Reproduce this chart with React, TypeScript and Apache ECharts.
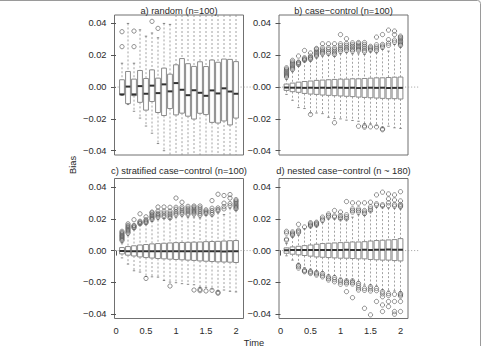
import React, { useEffect, useRef } from "react";
import * as echarts from "echarts";

// Evaluation times (one box per time)
const times = [0.1, 0.2, 0.3, 0.4, 0.5, 0.6, 0.7, 0.8, 0.9, 1.0, 1.1, 1.2, 1.3, 1.4, 1.5, 1.6, 1.7, 1.8, 1.9, 2.0];

const xTicks = [0, 0.5, 1, 1.5, 2];
const yTicks = [-0.04, -0.02, 0, 0.02, 0.04];

// a) random (n=100)
const aLo = [-0.0052, -0.011, -0.0152, -0.0195, -0.0245, -0.029, -0.0355, -0.04, -0.055, -0.055, -0.055, -0.055, -0.055, -0.055, -0.055, -0.055, -0.055, -0.055, -0.055, -0.055];
const aQ1 = [-0.0048, -0.0104, -0.0054, -0.0096, -0.0145, -0.0091, -0.016, -0.0179, -0.0135, -0.0175, -0.0164, -0.0183, -0.0201, -0.0165, -0.0173, -0.0222, -0.0226, -0.0213, -0.0238, -0.0195];
const aMed = [-0.0046, 0.0003, -0.0046, 0.0006, -0.0042, 0.0009, -0.0038, 0.0017, -0.0027, 0.0025, -0.0017, -0.0051, -0.002, -0.0036, -0.0055, -0.0021, -0.004, -0.0008, -0.0028, -0.0042];
const aQ3 = [0.0046, 0.0098, 0.005, 0.0104, 0.0054, 0.0108, 0.0056, 0.0119, 0.0081, 0.014, 0.0179, 0.0147, 0.013, 0.0159, 0.0129, 0.017, 0.0156, 0.0176, 0.0174, 0.016];
const aHi = [0.015, 0.04, 0.015, 0.036, 0.032, 0.034, 0.031, 0.04, 0.0394, 0.055, 0.055, 0.055, 0.055, 0.055, 0.055, 0.055, 0.055, 0.055, 0.055, 0.055];
const aOut = [[0.0254, 0.0348], [], [0.0254, 0.0352], [], [], [0.0413], [0.0369], [], [], [], [], [], [], [], [], [], [], [], [], []];

// b) case-control (n=100)
const bLo = [-0.0046, -0.0083, -0.0129, -0.0135, -0.0163, -0.0163, -0.0167, -0.019, -0.0198, -0.02, -0.0208, -0.021, -0.0215, -0.0231, -0.0231, -0.0242, -0.0256, -0.0246, -0.0256, -0.026];
const bQ1 = [-0.0021, -0.0029, -0.0033, -0.004, -0.0044, -0.0046, -0.005, -0.0052, -0.0054, -0.0056, -0.0058, -0.006, -0.0063, -0.0065, -0.0067, -0.0069, -0.0071, -0.0073, -0.0073, -0.0075];
const bMed = [-0.0003, -0.0004, -0.0004, -0.0005, -0.0004, -0.0005, -0.0004, -0.0005, -0.0003, -0.0004, -0.0005, -0.0004, -0.0006, -0.0005, -0.0004, -0.0005, -0.0004, -0.0006, -0.0005, -0.0005];
const bQ3 = [0.0019, 0.0025, 0.0031, 0.0035, 0.0038, 0.0042, 0.0044, 0.0046, 0.0048, 0.005, 0.005, 0.0052, 0.0052, 0.0054, 0.0056, 0.0058, 0.0058, 0.006, 0.0062, 0.0063];
const bHi = [0.0048, 0.0096, 0.0132, 0.0163, 0.0163, 0.0184, 0.0194, 0.0201, 0.0194, 0.0209, 0.0216, 0.0209, 0.0209, 0.0205, 0.0222, 0.0216, 0.0237, 0.0226, 0.0268, 0.0251];
const bOut = [
  [0.0063, 0.007, 0.0077, 0.0084, 0.0091, 0.0098, 0.0106, 0.0113, 0.0121],
  [0.011, 0.0118, 0.0126, 0.0134, 0.0142, 0.015, 0.0158, 0.0168],
  [0.0142, 0.0148, 0.0154, 0.0157, 0.0195],
  [0.0168, 0.0172, 0.0178, 0.0184, 0.023],
  [0.0174, 0.018, 0.0186, 0.0195, 0.0214, -0.0172],
  [0.0195, 0.0203, 0.021, 0.0218, 0.0226, 0.0237, 0.0243],
  [0.021, 0.0218, 0.0226, 0.0234, 0.0247, 0.0272],
  [0.0212, 0.0222, 0.0235, 0.0247, 0.0272],
  [0.0205, 0.0215, 0.0225, 0.0235, 0.0247, 0.0272, -0.0224],
  [0.0225, 0.0235, 0.0245, 0.026, 0.0272, 0.033],
  [0.023, 0.024, 0.025, 0.0262, 0.0274, 0.0304],
  [0.0226, 0.0235, 0.0246, 0.0256, 0.0266, 0.0278],
  [0.023, 0.0238, 0.0246, 0.0254, 0.0262, 0.0272, 0.028, -0.0246],
  [0.0222, 0.0232, 0.0244, 0.0256, 0.0268, 0.028, -0.0244, -0.0252],
  [0.0232, 0.024, 0.0248, 0.0256, -0.025],
  [0.0228, 0.024, 0.0252, 0.0266, 0.0314, -0.025],
  [0.025, 0.0258, 0.0268, 0.033, -0.0262, -0.0268],
  [0.0262, 0.0276, 0.0298, 0.0358],
  [0.0282, 0.0295, 0.033, 0.0352],
  [0.0262, 0.027, 0.0278, 0.0286, 0.0295, 0.0304, 0.0312, 0.032],
];

// c) stratified case-control (n=100)
const cLo = [-0.0046, -0.0085, -0.0127, -0.0135, -0.0163, -0.0165, -0.0167, -0.0188, -0.0198, -0.0202, -0.0208, -0.0212, -0.0215, -0.0231, -0.0233, -0.0242, -0.0254, -0.0248, -0.0256, -0.026];
const cQ1 = [-0.0021, -0.0029, -0.0034, -0.004, -0.0044, -0.0047, -0.005, -0.0052, -0.0054, -0.0056, -0.0058, -0.006, -0.0062, -0.0065, -0.0067, -0.0069, -0.0071, -0.0072, -0.0073, -0.0075];
const cMed = [-0.0003, -0.0004, -0.0005, -0.0004, -0.0004, -0.0005, -0.0004, -0.0005, -0.0004, -0.0004, -0.0005, -0.0004, -0.0005, -0.0005, -0.0004, -0.0005, -0.0004, -0.0006, -0.0005, -0.0005];
const cQ3 = [0.0019, 0.0025, 0.003, 0.0035, 0.0038, 0.0042, 0.0044, 0.0046, 0.0048, 0.005, 0.0051, 0.0052, 0.0053, 0.0054, 0.0056, 0.0057, 0.0058, 0.006, 0.0062, 0.0063];
const cHi = [0.0048, 0.0094, 0.0132, 0.0163, 0.0165, 0.0184, 0.0194, 0.0201, 0.0196, 0.0209, 0.0216, 0.0209, 0.0211, 0.0205, 0.0222, 0.0218, 0.0237, 0.0226, 0.0266, 0.0251];
const cOut = [
  [0.0063, 0.007, 0.0077, 0.0084, 0.0091, 0.0098, 0.0106, 0.0113, 0.0121],
  [0.011, 0.0118, 0.0126, 0.0134, 0.0142, 0.015, 0.0158, 0.0168],
  [0.0142, 0.0148, 0.0154, 0.0158, 0.0194],
  [0.0168, 0.0172, 0.0178, 0.0184, 0.0231],
  [0.0174, 0.018, 0.0186, 0.0194, 0.0212, -0.0175],
  [0.0195, 0.0203, 0.021, 0.0218, 0.0226, 0.0236, 0.0242],
  [0.021, 0.0218, 0.0226, 0.0234, 0.0248, 0.0274],
  [0.0212, 0.0222, 0.0235, 0.0248, 0.0274],
  [0.0205, 0.0215, 0.0225, 0.0235, 0.0248, 0.0272, -0.0223],
  [0.0225, 0.0235, 0.0245, 0.026, 0.0272, 0.033],
  [0.023, 0.024, 0.025, 0.0262, 0.0274, 0.0304],
  [0.0226, 0.0235, 0.0246, 0.0256, 0.0266, 0.0278],
  [0.023, 0.0238, 0.0246, 0.0254, 0.0262, 0.0272, 0.028, -0.0248],
  [0.0222, 0.0232, 0.0244, 0.0256, 0.0268, 0.028, -0.0244, -0.0252],
  [0.0232, 0.024, 0.0248, 0.0256, -0.0254],
  [0.0228, 0.024, 0.0252, 0.0266, 0.0314, -0.025],
  [0.025, 0.0258, 0.0268, 0.0354, -0.0262, -0.0268],
  [0.0262, 0.0276, 0.0298, 0.0346],
  [0.0282, 0.0295, 0.033, 0.0352],
  [0.0262, 0.027, 0.0278, 0.0286, 0.0295, 0.0304, 0.0312, 0.032],
];

// d) nested case-control (n ~ 180)
const dLo = [-0.0033, -0.006, -0.0081, -0.0108, -0.0117, -0.0129, -0.0133, -0.0154, -0.0158, -0.0175, -0.0185, -0.0185, -0.0196, -0.0217, -0.0217, -0.0223, -0.0248, -0.0254, -0.0254, -0.0258];
const dQ1 = [-0.0017, -0.0023, -0.0027, -0.0031, -0.0035, -0.004, -0.0042, -0.0044, -0.0046, -0.0048, -0.0048, -0.005, -0.0052, -0.0052, -0.0056, -0.0058, -0.006, -0.006, -0.0063, -0.0065];
const dMed = [0.0002, 0.0003, 0.0003, 0.0004, 0.0003, 0.0004, 0.0004, 0.0003, 0.0004, 0.0004, 0.0005, 0.0004, 0.0004, 0.0005, 0.0004, 0.0005, 0.0005, 0.0006, 0.0005, 0.0005];
const dQ3 = [0.0017, 0.0023, 0.0027, 0.0031, 0.0035, 0.004, 0.0044, 0.0046, 0.0048, 0.005, 0.0052, 0.0054, 0.0054, 0.0056, 0.006, 0.0063, 0.0065, 0.0067, 0.0069, 0.0075];
const dHi = [0.0044, 0.0085, 0.0096, 0.0138, 0.0148, 0.0154, 0.0175, 0.02, 0.02, 0.0196, 0.0196, 0.021, 0.0225, 0.0221, 0.0246, 0.0273, 0.0273, 0.0267, 0.0267, 0.0262];
const dOut = [
  [0.0065, 0.0072, 0.011, 0.0121],
  [0.0096, 0.0102, 0.0109, 0.0117],
  [0.0112, 0.012, 0.0128, 0.0165, -0.0092, -0.01, -0.011],
  [0.0148, -0.0123, -0.0128, -0.0133],
  [0.0154, 0.016, 0.0168, 0.0175, -0.013, -0.0137, -0.0144],
  [0.016, 0.0166, 0.0172, 0.0178, -0.0138, -0.0146, -0.0154],
  [0.019, 0.0198, 0.021, -0.0144, -0.0155, -0.0165],
  [0.021, 0.022, 0.023, -0.0165, -0.0175, -0.0185],
  [0.021, 0.0218, 0.0252, -0.017, -0.0183, -0.0196],
  [0.02, 0.021, 0.022, 0.0242, -0.0185, -0.0198, -0.0212],
  [0.02, 0.0212, 0.0225, 0.0308, -0.019, -0.02, -0.021, -0.0258],
  [0.0242, 0.0252, 0.0262, 0.03, -0.019, -0.02, -0.021, -0.0296],
  [0.0242, 0.0252, 0.0262, 0.0298, -0.0206, -0.022, -0.0234, -0.0248],
  [0.0232, 0.0242, 0.0252, 0.03, -0.0238, -0.025, -0.0363],
  [0.025, 0.0262, 0.0275, 0.0304, -0.0227, -0.024, -0.0254, -0.0404],
  [0.0285, 0.0294, 0.035, -0.0238, -0.0252, -0.032],
  [0.028, 0.0288, 0.0367, -0.0258, -0.0272, -0.029, -0.0342, -0.0383],
  [0.0282, 0.03, 0.0325, 0.0356, -0.027, -0.0282, -0.032, -0.0352],
  [0.028, 0.029, 0.0318, 0.035, -0.0275, -0.032, -0.0383, -0.04],
  [0.0275, 0.0282, 0.029, 0.0312, 0.037, -0.027, -0.0278, -0.0286, -0.032, -0.0383],
];

const FONT = "'Liberation Sans', Arial, Helvetica, sans-serif";
const TEXT = "#2a2a2a";
const FRAME = "#707070";
const BOX_W = 0.08;

type Panel = {
  title: string;
  lo: number[]; q1: number[]; med: number[]; q3: number[]; hi: number[]; out: number[][];
  left: number; top: number; titleY: number; showX: boolean;
};

const panels: Panel[] = [
  { title: "a) random (n=100)", lo: aLo, q1: aQ1, med: aMed, q3: aQ3, hi: aHi, out: aOut, left: 114.5, top: 15, titleY: 10.5, showX: false },
  { title: "b) case\u2212control (n=100)", lo: bLo, q1: bQ1, med: bMed, q3: bQ3, hi: bHi, out: bOut, left: 279, top: 15, titleY: 10.5, showX: false },
  { title: "c) stratified case\u2212control (n=100)", lo: cLo, q1: cQ1, med: cMed, q3: cQ3, hi: cHi, out: cOut, left: 114.5, top: 178.5, titleY: 171, showX: true },
  { title: "d) nested case\u2212control (n ~ 180)", lo: dLo, q1: dQ1, med: dMed, q3: dQ3, hi: dHi, out: dOut, left: 279, top: 178.5, titleY: 171, showX: true },
];

const GRID_W = 129;
const GRID_H = 140;

const fmtY = (v: number) => {
  const s = Math.abs(v).toFixed(2);
  return v < -1e-9 ? "\u2212" + s : s;
};
const fmtX = (v: number) => String(Math.round(v * 10) / 10);

function boxRenderer(params: any, api: any) {
  const cs = params.coordSys;
  const top = cs.y;
  const bot = cs.y + cs.height;
  const t = api.value(0);
  const px = api.coord([t, 0])[0];
  const yOf = (v: number) => api.coord([t, v])[1];
  const half = api.size([BOX_W, 0])[0] / 2;
  const yLo = yOf(api.value(1));
  const yQ1 = yOf(api.value(2));
  const yMed = yOf(api.value(3));
  const yQ3 = yOf(api.value(4));
  const yHi = yOf(api.value(5));
  const clamp = (y: number) => Math.max(top, Math.min(bot, y));
  const whisk = { stroke: "#8c8c8c", lineWidth: 0.8, lineDash: [2, 2] };
  const cap = { stroke: "#6a6a6a", lineWidth: 0.8 };
  const children: any[] = [
    { type: "line", shape: { x1: px, y1: clamp(yHi), x2: px, y2: yQ3 }, style: whisk },
    { type: "line", shape: { x1: px, y1: yQ1, x2: px, y2: clamp(yLo) }, style: whisk },
  ];
  if (yHi >= top) children.push({ type: "line", shape: { x1: px - half / 2, y1: yHi, x2: px + half / 2, y2: yHi }, style: cap });
  if (yLo <= bot) children.push({ type: "line", shape: { x1: px - half / 2, y1: yLo, x2: px + half / 2, y2: yLo }, style: cap });
  children.push({
    type: "rect",
    shape: { x: px - half, y: yQ3, width: half * 2, height: yQ1 - yQ3 },
    style: { fill: "#ffffff", stroke: "#8a8a8a", lineWidth: 1 },
  });
  children.push({
    type: "line",
    shape: { x1: px - half, y1: yMed, x2: px + half, y2: yMed },
    style: { stroke: "#303030", lineWidth: 2 },
  });
  return { type: "group", children };
}

function zeroRenderer(params: any, api: any) {
  const cs = params.coordSys;
  const y = api.coord([0, api.value(0)])[1];
  return {
    type: "line",
    shape: { x1: cs.x, y1: y, x2: cs.x + cs.width + 11, y2: y },
    style: { stroke: "#9a9a9a", lineWidth: 0.8, lineDash: [1.2, 1.8] },
  };
}

function label(text: string, x: number, y: number, rotation = 0) {
  return {
    type: "text", x, y, rotation,
    style: {
      text, fontSize: 9.3, fontFamily: FONT, fill: TEXT,
      align: "center", verticalAlign: "middle",
      textAlign: "center", textVerticalAlign: "middle",
    },
  };
}

export default function App() {
  const ref = useRef<HTMLDivElement>(null);

  useEffect(() => {
    if (!ref.current) return;
    const chart = echarts.init(ref.current, undefined, { renderer: "svg" });

    const grid = panels.map((p) => ({
      left: p.left, top: p.top, width: GRID_W, height: GRID_H,
      show: true, borderColor: FRAME, borderWidth: 1, backgroundColor: "transparent",
      containLabel: false,
    }));

    const xAxis = panels.map((p, i) => ({
      type: "value", gridIndex: i, min: -0.025, max: 2.125,
      splitLine: { show: false },
      axisLine: { show: false },
      axisTick: { show: p.showX, inside: false, length: 5, customValues: xTicks, lineStyle: { color: "#555", width: 1 } },
      axisLabel: { show: p.showX, customValues: xTicks, margin: 8, fontSize: 9.3, fontFamily: FONT, color: TEXT, formatter: fmtX },
    }));

    const yAxis = panels.map((_p, i) => ({
      type: "value", gridIndex: i, min: -0.0427, max: 0.0453,
      splitLine: { show: false },
      axisLine: { show: false },
      axisTick: { show: true, inside: false, length: 5, customValues: yTicks, lineStyle: { color: "#555", width: 1 } },
      axisLabel: { show: true, customValues: yTicks, margin: 8, fontSize: 9.3, fontFamily: FONT, color: TEXT, formatter: fmtY },
    }));

    const series: any[] = [];
    panels.forEach((p, i) => {
      series.push({
        type: "custom", xAxisIndex: i, yAxisIndex: i, clip: false, z: 1, silent: true,
        data: [[0]], encode: { y: 0 },
        renderItem: zeroRenderer,
      });
      series.push({
        type: "custom", xAxisIndex: i, yAxisIndex: i, clip: true, z: 3, silent: true,
        data: times.map((t, k) => [t, p.lo[k], p.q1[k], p.med[k], p.q3[k], p.hi[k]]),
        encode: { x: 0, y: [1, 2, 3, 4, 5] },
        renderItem: boxRenderer,
      });
      series.push({
        type: "scatter", xAxisIndex: i, yAxisIndex: i, clip: true, z: 4, silent: true,
        symbol: "circle", symbolSize: 4.3,
        itemStyle: { color: "rgba(0,0,0,0)", borderColor: "#505050", borderWidth: 0.8 },
        data: p.out.flatMap((vals, k) => vals.map((v) => [times[k], v])),
      });
    });

    chart.setOption({
      animation: false,
      backgroundColor: "#ffffff",
      grid,
      xAxis,
      yAxis,
      series,
      graphic: [
        {
          type: "rect",
          shape: { x: -6, y: 0.5, width: 486.5, height: 360, r: 3 },
          style: { fill: "none", stroke: "#9a9a9a", lineWidth: 1 },
          silent: true,
        },
        ...panels.map((p) => label(p.title, p.left + GRID_W / 2, p.titleY)),
        label("Bias", 72.5, 165, Math.PI / 2),
        label("Time", 254, 342.5),
      ],
    });

    return () => chart.dispose();
  }, []);

  return (
    <div
      ref={ref}
      style={{ position: "fixed", left: 0, top: 0, width: 487, height: 346, background: "#fff" }}
    />
  );
}
